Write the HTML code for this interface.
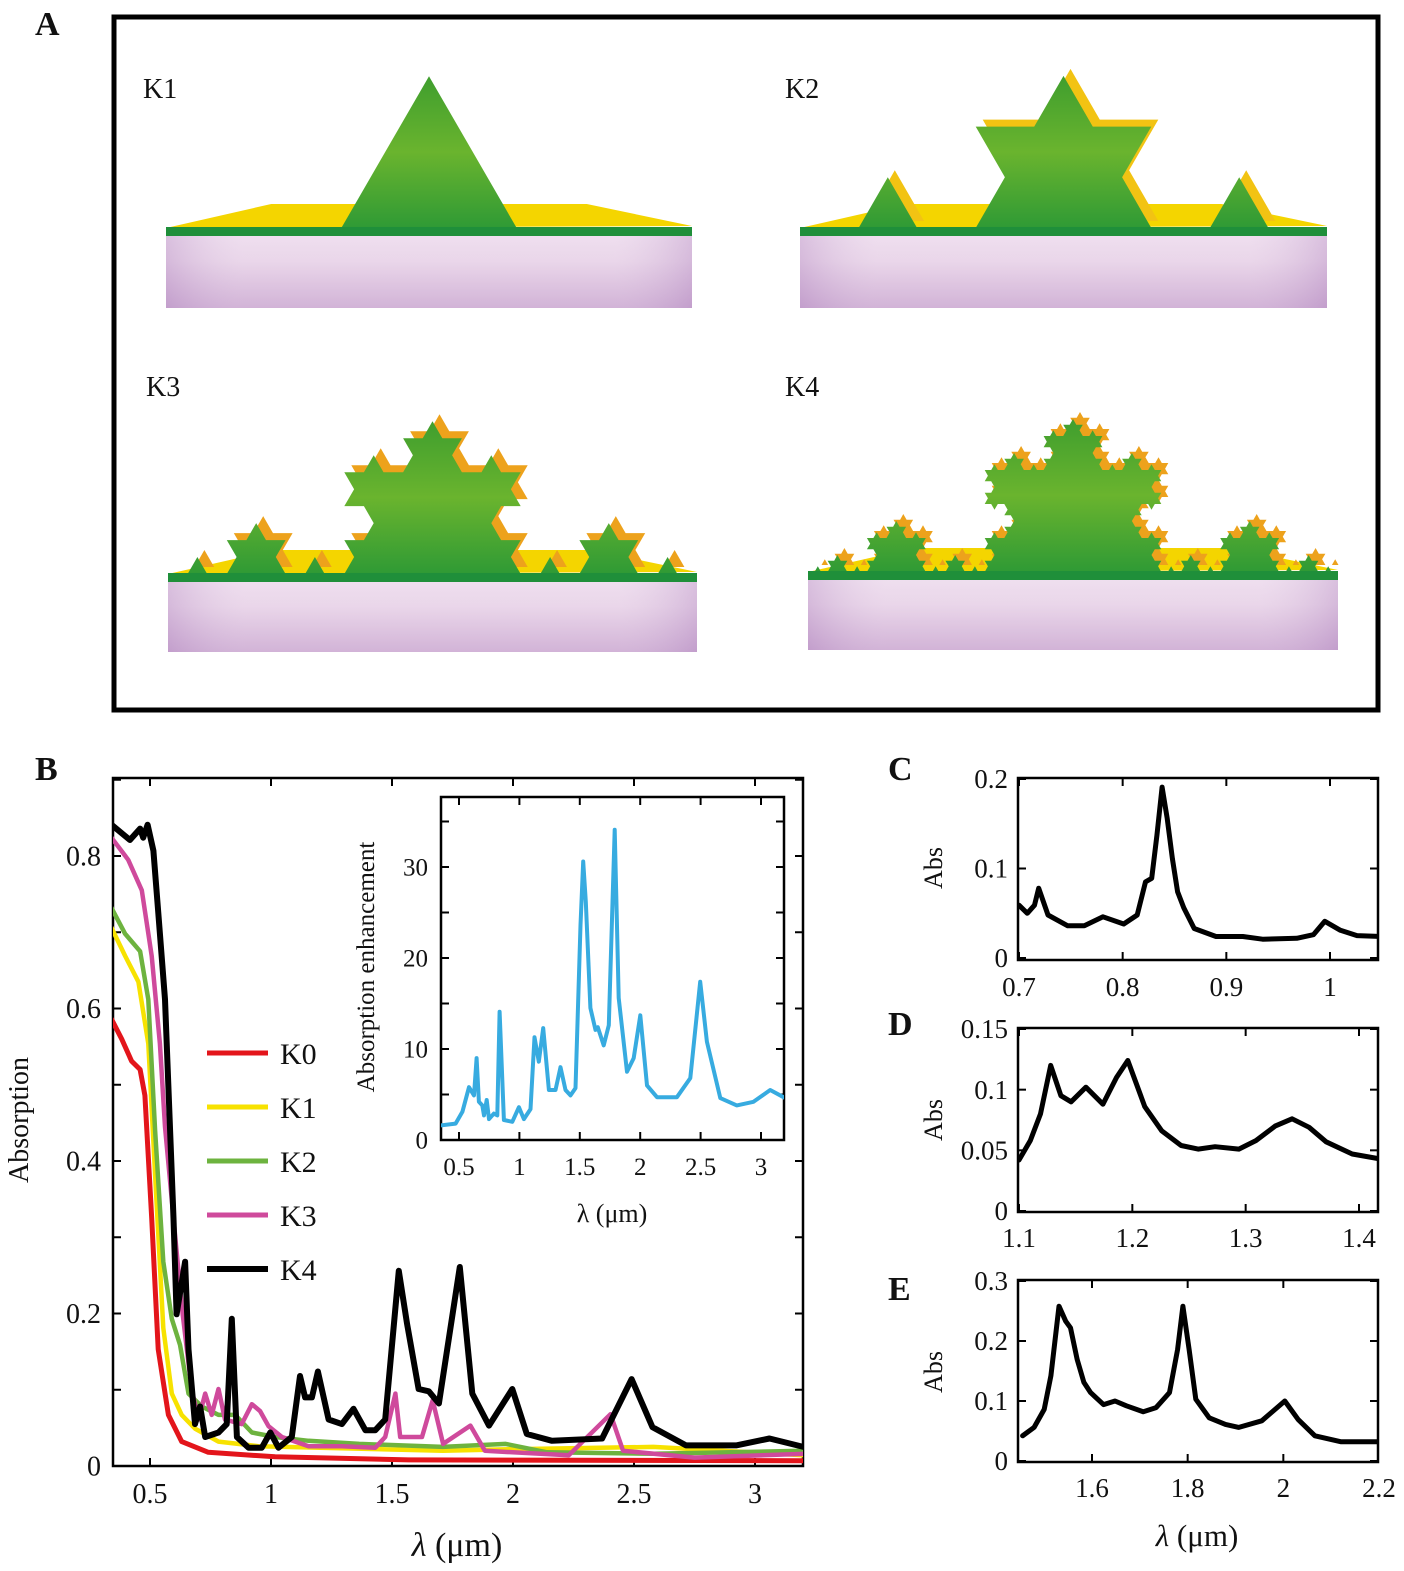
<!DOCTYPE html>
<html><head><meta charset="utf-8"><style>
html,body{margin:0;padding:0;background:#fff}
svg{display:block}
svg text{font-family:"Liberation Serif",serif;fill:#111}
</style></head><body>
<svg id="fig" width="1404" height="1571" viewBox="0 0 1404 1571" xmlns="http://www.w3.org/2000/svg" font-family="Liberation Serif, serif">
<defs>
<linearGradient id="slab" x1="0" y1="0" x2="0" y2="1"><stop offset="0" stop-color="#ecd9ec"/><stop offset="0.35" stop-color="#e6cfe6"/><stop offset="1" stop-color="#caa6d0"/></linearGradient>
<linearGradient id="slabside" x1="0" y1="0" x2="1" y2="0"><stop offset="0" stop-color="#b58fc4" stop-opacity="0.35"/><stop offset="0.15" stop-color="#fff" stop-opacity="0.15"/><stop offset="0.85" stop-color="#fff" stop-opacity="0.15"/><stop offset="1" stop-color="#b58fc4" stop-opacity="0.35"/></linearGradient>
<linearGradient id="grn" x1="0" y1="0" x2="0" y2="1"><stop offset="0" stop-color="#3f9e2e"/><stop offset="0.5" stop-color="#6ab42e"/><stop offset="1" stop-color="#2f9a35"/></linearGradient>
<clipPath id="clipB"><rect x="113" y="778" width="690" height="688"/></clipPath>
<clipPath id="clipI"><rect x="441" y="797" width="343" height="343"/></clipPath>
<clipPath id="clipC"><rect x="1018" y="778" width="360" height="182"/></clipPath>
<clipPath id="clipD"><rect x="1018" y="1028" width="360" height="184"/></clipPath>
<clipPath id="clipE"><rect x="1018" y="1280" width="360" height="182"/></clipPath>
</defs>
<text x="35" y="35" font-size="34" font-weight="bold">A</text>
<rect x="114" y="17" width="1264" height="693" fill="none" stroke="#000" stroke-width="5"/>
<g id="models"></g>
<text x="143" y="98" font-size="28">K1</text>
<text x="785" y="98" font-size="28">K2</text>
<text x="146" y="396" font-size="28">K3</text>
<text x="785" y="396" font-size="28">K4</text>
<text x="35" y="780" font-size="34" font-weight="bold">B</text>
<g id="plotB"></g>
<text transform="translate(28,1120) rotate(-90)" text-anchor="middle" font-size="28">Absorption</text>
<text x="457" y="1556" text-anchor="middle" font-size="34"><tspan font-style="italic">λ</tspan> (μm)</text>
<g id="legend"></g>
<text transform="translate(374,967) rotate(-90)" text-anchor="middle" font-size="25">Absorption enhancement</text>
<text x="612" y="1222" text-anchor="middle" font-size="26">λ (μm)</text>
<text x="888" y="780" font-size="34" font-weight="bold">C</text>
<text x="888" y="1035" font-size="34" font-weight="bold">D</text>
<text x="888" y="1300" font-size="34" font-weight="bold">E</text>
<text transform="translate(942,868) rotate(-90)" text-anchor="middle" font-size="26">Abs</text>
<text transform="translate(942,1120) rotate(-90)" text-anchor="middle" font-size="26">Abs</text>
<text transform="translate(942,1372) rotate(-90)" text-anchor="middle" font-size="26">Abs</text>
<text x="1197" y="1546" text-anchor="middle" font-size="31"><tspan font-style="italic">λ</tspan> (μm)</text>
<g id="plotI"></g>
<g id="plotC"></g>
<g id="plotD"></g>
<g id="plotE"></g>
</svg>
<script>
const k4X=[0.341,0.417,0.459,0.472,0.49,0.514,0.534,0.562,0.597,0.61,0.645,0.659,0.686,0.707,0.728,0.783,0.817,0.838,0.859,0.907,0.962,0.997,1.031,1.086,1.12,1.141,1.169,1.194,1.238,1.293,1.341,1.39,1.431,1.472,1.528,1.562,1.61,1.652,1.694,1.78,1.832,1.901,1.997,2.057,2.161,2.368,2.49,2.576,2.715,2.922,3.06,3.2];
const k4Y=[0.841,0.821,0.836,0.824,0.841,0.807,0.727,0.612,0.325,0.199,0.268,0.153,0.055,0.078,0.038,0.044,0.055,0.193,0.038,0.024,0.024,0.044,0.024,0.038,0.118,0.09,0.09,0.124,0.061,0.055,0.075,0.047,0.047,0.061,0.256,0.187,0.101,0.098,0.082,0.261,0.095,0.053,0.101,0.042,0.033,0.036,0.114,0.051,0.027,0.027,0.036,0.025];
const k3X=[0.341,0.41,0.466,0.507,0.541,0.562,0.597,0.631,0.672,0.7,0.728,0.755,0.783,0.81,0.879,0.921,0.955,0.99,1.045,1.155,1.293,1.431,1.472,1.514,1.534,1.624,1.668,1.711,1.824,1.884,2.23,2.403,2.455,2.75,3.2];
const k3Y=[0.824,0.795,0.755,0.669,0.554,0.445,0.325,0.21,0.101,0.061,0.095,0.067,0.101,0.061,0.055,0.081,0.072,0.052,0.038,0.026,0.026,0.024,0.038,0.095,0.038,0.038,0.086,0.029,0.053,0.02,0.014,0.068,0.02,0.011,0.016];
const k2X=[0.341,0.397,0.459,0.493,0.521,0.555,0.59,0.624,0.659,0.714,0.783,0.852,0.921,1.017,1.155,1.365,1.71,1.97,2.14,2.58,3.2];
const k2Y=[0.732,0.698,0.675,0.612,0.44,0.268,0.193,0.159,0.095,0.078,0.067,0.067,0.044,0.038,0.033,0.029,0.025,0.029,0.018,0.016,0.02];
const k1X=[0.341,0.397,0.452,0.493,0.521,0.555,0.59,0.631,0.686,0.783,0.948,1.71,1.99,2.58,3.2];
const k1Y=[0.706,0.669,0.635,0.554,0.382,0.181,0.095,0.067,0.049,0.032,0.026,0.02,0.022,0.025,0.014];
const k0X=[0.341,0.383,0.424,0.459,0.479,0.507,0.534,0.576,0.631,0.741,1.017,1.569,3.2];
const k0Y=[0.586,0.56,0.531,0.52,0.486,0.325,0.153,0.067,0.032,0.018,0.012,0.008,0.007];
const insetX=[0.348,0.472,0.528,0.583,0.624,0.646,0.665,0.693,0.707,0.729,0.748,0.789,0.817,0.836,0.872,0.941,0.996,1.037,1.092,1.125,1.161,1.197,1.244,1.299,1.34,1.382,1.423,1.464,1.506,1.528,1.55,1.588,1.63,1.649,1.698,1.74,1.789,1.822,1.891,1.946,2.001,2.056,2.139,2.304,2.415,2.497,2.552,2.663,2.8,2.938,3.076,3.2];
const insetY=[1.6,1.8,3.1,5.8,4.9,9.0,4.2,3.8,2.7,4.4,2.3,2.9,2.7,14.1,2.2,2.0,3.6,2.3,3.4,11.3,8.6,12.3,5.5,5.5,8.0,5.5,4.9,5.7,23.6,30.6,26.2,14.5,12.1,12.4,10.4,12.6,34.1,15.6,7.5,9.0,13.7,6.0,4.7,4.7,6.8,17.4,10.8,4.6,3.8,4.2,5.5,4.6];
const cX=[0.7,0.708,0.715,0.719,0.728,0.747,0.763,0.781,0.801,0.814,0.822,0.828,0.833,0.838,0.843,0.848,0.853,0.859,0.869,0.89,0.916,0.935,0.968,0.984,0.995,1.01,1.026,1.049];
const cY=[0.059,0.05,0.059,0.078,0.048,0.036,0.036,0.046,0.038,0.048,0.085,0.089,0.137,0.191,0.156,0.111,0.074,0.056,0.033,0.024,0.024,0.021,0.022,0.026,0.041,0.031,0.025,0.024];
const dX=[1.1,1.11,1.119,1.128,1.137,1.146,1.159,1.174,1.186,1.196,1.211,1.226,1.243,1.258,1.273,1.294,1.309,1.326,1.341,1.356,1.371,1.394,1.418];
const dY=[0.042,0.058,0.08,0.12,0.095,0.09,0.102,0.088,0.11,0.124,0.086,0.066,0.054,0.051,0.053,0.051,0.058,0.07,0.076,0.069,0.057,0.047,0.043];
const eX=[1.455,1.479,1.5,1.514,1.531,1.545,1.555,1.569,1.583,1.597,1.624,1.648,1.672,1.707,1.734,1.762,1.779,1.79,1.803,1.817,1.845,1.879,1.907,1.955,2.003,2.031,2.066,2.121,2.197];
const eY=[0.042,0.056,0.086,0.142,0.258,0.233,0.222,0.169,0.131,0.114,0.094,0.1,0.092,0.082,0.089,0.114,0.186,0.258,0.186,0.103,0.072,0.061,0.056,0.067,0.1,0.069,0.042,0.032,0.032];
const legendNames=["K0","K1","K2","K3","K4"];
const bXTicks=[0.5,1,1.5,2,2.5,3];
const bYTicks=[0,0.2,0.4,0.6,0.8];
const iXTicks=[0.5,1,1.5,2,2.5,3];
const iYTicks=[0,10,20,30];
const cXTicks=[0.7,0.8,0.9,1];
const cYTicks=[0,0.1,0.2];
const dXTicks=[1.1,1.2,1.3,1.4];
const dYTicks=[0,0.05,0.1,0.15];
const eXTicks=[1.6,1.8,2,2.2];
const eYTicks=[0,0.1,0.2,0.3];

const NS="http://www.w3.org/2000/svg";
function mk(tag,parent){const e=document.createElementNS(NS,tag);parent.appendChild(e);return e;}
function lin(d0,d1,r0,r1){return v=>r0+(v-d0)*(r1-r0)/(d1-d0);}
function drawLine(g,xs,ys,sx,sy,color,w,clip,name){
  let d="";for(let i=0;i<xs.length;i++){d+=(i?"L":"M")+sx(xs[i]).toFixed(1)+","+sy(ys[i]).toFixed(1);}
  const p=mk("path",g);p.setAttribute("d",d);p.setAttribute("fill","none");p.setAttribute("stroke",color);
  p.setAttribute("stroke-width",w);p.setAttribute("stroke-linejoin","round");p.setAttribute("stroke-linecap","round");
  p.setAttribute("clip-path","url(#"+clip+")");
  
  
}
function frame(g,box,sx,sy,xt,yt,xminor,yminor,fs,xlabY,ylabX,fmtx,fmty,name){
  const r=mk("rect",g);r.setAttribute("x",box.x);r.setAttribute("y",box.y);r.setAttribute("width",box.w);r.setAttribute("height",box.h);
  r.setAttribute("fill","none");r.setAttribute("stroke","#000");r.setAttribute("stroke-width",2.5);
  
  
  const tl=8;
  const allx=xminor||xt, ally=yminor||yt;
  allx.forEach(v=>{const x=sx(v);if(x<box.x+1||x>box.x+box.w-1)return;
    [[box.y,box.y+tl],[box.y+box.h,box.y+box.h-tl]].forEach(([a,b])=>{const l=mk("line",g);l.setAttribute("x1",x);l.setAttribute("x2",x);l.setAttribute("y1",a);l.setAttribute("y2",b);l.setAttribute("stroke","#000");l.setAttribute("stroke-width",2);
      
      });});
  ally.forEach(v=>{const y=sy(v);if(y<box.y+1||y>box.y+box.h-1)return;
    [[box.x,box.x+tl],[box.x+box.w,box.x+box.w-tl]].forEach(([a,b])=>{const l=mk("line",g);l.setAttribute("y1",y);l.setAttribute("y2",y);l.setAttribute("x1",a);l.setAttribute("x2",b);l.setAttribute("stroke","#000");l.setAttribute("stroke-width",2);
      
      });});
  xt.forEach(v=>{const t=mk("text",g);t.setAttribute("x",sx(v));t.setAttribute("y",xlabY);t.setAttribute("text-anchor","middle");t.setAttribute("font-size",fs);t.setAttribute("font-family","Liberation Serif, serif");t.textContent=fmtx(v);
    
    });
  yt.forEach(v=>{const t=mk("text",g);t.setAttribute("x",ylabX);t.setAttribute("y",sy(v)+fs*0.34);t.setAttribute("text-anchor","end");t.setAttribute("font-size",fs);t.setAttribute("font-family","Liberation Serif, serif");t.textContent=fmty(v);
    
    });
}
const S=v=>String(v);

const gB=document.getElementById("plotB");
const bx=lin(0.5,3,150,755), by=lin(0,0.8,1466,856);
const minorB=[];for(let i=0;i<=9;i++)minorB.push(i/10);
frame(gB,{x:113,y:778,w:690,h:688},bx,by,bXTicks,bYTicks,null,minorB,28,1503,101,S,S,"b");
drawLine(gB,k0X,k0Y,bx,by,"#e3151b",5,"clipB","series-k0");
drawLine(gB,k1X,k1Y,bx,by,"#f7e200",4.5,"clipB","series-k1");
drawLine(gB,k2X,k2Y,bx,by,"#6db33f",4.5,"clipB","series-k2");
drawLine(gB,k3X,k3Y,bx,by,"#cf4a9c",4.5,"clipB","series-k3");
drawLine(gB,k4X,k4Y,bx,by,"#000",6,"clipB","series-k4");
const lg=document.getElementById("legend");
const lcols=["#e3151b","#f7e200","#6db33f","#cf4a9c","#000"];
legendNames.forEach((n,i)=>{const y=1053+i*54;
  const l=mk("line",lg);l.setAttribute("x1",207);l.setAttribute("x2",268);l.setAttribute("y1",y);l.setAttribute("y2",y);l.setAttribute("stroke",lcols[i]);l.setAttribute("stroke-width",i==4?6:5);
  
  
  const t=mk("text",lg);t.setAttribute("x",280);t.setAttribute("y",y+11);t.setAttribute("font-size",30);t.setAttribute("font-family","Liberation Serif, serif");t.textContent=n;
  
  
});
const gI=document.getElementById("plotI");
const ix=lin(0.5,3,459,761), iy=lin(0,30,1140,867);
const iMinorY=[0,5,10,15,20,25,30,35];
frame(gI,{x:441,y:797,w:343,h:343},ix,iy,iXTicks,iYTicks,null,iMinorY,25,1175,428,S,S,"inset");
drawLine(gI,insetX,insetY,ix,iy,"#37abe0",4,"clipI","inset-series");
const gC=document.getElementById("plotC");
const cx=lin(0.7,1,1019,1330), cy=lin(0,0.2,958,779);
frame(gC,{x:1018,y:778,w:360,h:182},cx,cy,cXTicks,cYTicks,null,null,27,996,1008,S,S,"c");
drawLine(gC,cX,cY,cx,cy,"#000",5,"clipC","series-c");
const gD=document.getElementById("plotD");
const dx=lin(1.1,1.4,1019,1359), dy=lin(0,0.15,1211,1029);
frame(gD,{x:1018,y:1028,w:360,h:184},dx,dy,dXTicks,dYTicks,null,null,27,1247,1008,S,S,"d");
drawLine(gD,dX,dY,dx,dy,"#000",5,"clipD","series-d");
const gE=document.getElementById("plotE");
const ex=lin(1.6,2.2,1092,1379), ey=lin(0,0.3,1461,1281);
frame(gE,{x:1018,y:1280,w:360,h:182},ex,ey,eXTicks,eYTicks,null,null,27,1497,1008,S,S,"e");
drawLine(gE,eX,eY,ex,ey,"#000",5,"clipE","series-e");

function koch(p0,p1,n){
  if(n===0)return [p0];
  const dx=(p1[0]-p0[0])/3, dy=(p1[1]-p0[1])/3;
  const a=[p0[0]+dx,p0[1]+dy], b=[p0[0]+2*dx,p0[1]+2*dy];
  const c=Math.cos(-Math.PI/3), s=Math.sin(-Math.PI/3);
  const m=[a[0]+dx*c-dy*s, a[1]+dx*s+dy*c];
  return [].concat(koch(p0,a,n-1),koch(a,m,n-1),koch(m,b,n-1),koch(b,p1,n-1));
}
const gm=document.getElementById("models");
const models=[{x0:166,x1:692,y:228,b:308,n:1},{x0:800,x1:1327,y:228,b:308,n:2},{x0:168,x1:697,y:574,b:652,n:3},{x0:808,x1:1338,y:572,b:650,n:4}];
models.forEach((m,i)=>{
  const g=mk("g",gm);
  
  
  const w=m.x1-m.x0;
  const yb=mk("polygon",g);
  yb.setAttribute("points",`${m.x0},${m.y} ${m.x0+w*0.2},${m.y-24} ${m.x1-w*0.2},${m.y-24} ${m.x1},${m.y-2}`);
  yb.setAttribute("fill","#f4d500");
  if(m.n>=2){
    const pts=koch([m.x0,m.y],[m.x1,m.y],m.n).concat([[m.x1,m.y]]);
    const o=mk("polygon",g);o.setAttribute("points",pts.map(p=>(p[0]+7).toFixed(1)+","+(p[1]-7).toFixed(1)).join(" "));
    o.setAttribute("fill",m.n>=3?"#eda21c":"#f2c313");
  }
  const pts=koch([m.x0,m.y],[m.x1,m.y],m.n).concat([[m.x1,m.y]]);
  const gp=mk("polygon",g);gp.setAttribute("points",pts.map(p=>p[0].toFixed(1)+","+p[1].toFixed(1)).join(" "));
  gp.setAttribute("fill","url(#grn)");
  const band=mk("rect",g);band.setAttribute("x",m.x0);band.setAttribute("y",m.y-1);band.setAttribute("width",w);band.setAttribute("height",9);band.setAttribute("fill","#1f8f3a");
  const sl=mk("rect",g);sl.setAttribute("x",m.x0);sl.setAttribute("y",m.y+8);sl.setAttribute("width",w);sl.setAttribute("height",m.b-m.y-8);sl.setAttribute("fill","url(#slab)");
  const sl2=mk("rect",g);sl2.setAttribute("x",m.x0);sl2.setAttribute("y",m.y+8);sl2.setAttribute("width",w);sl2.setAttribute("height",m.b-m.y-8);sl2.setAttribute("fill","url(#slabside)");
});
</script>
</body></html>
